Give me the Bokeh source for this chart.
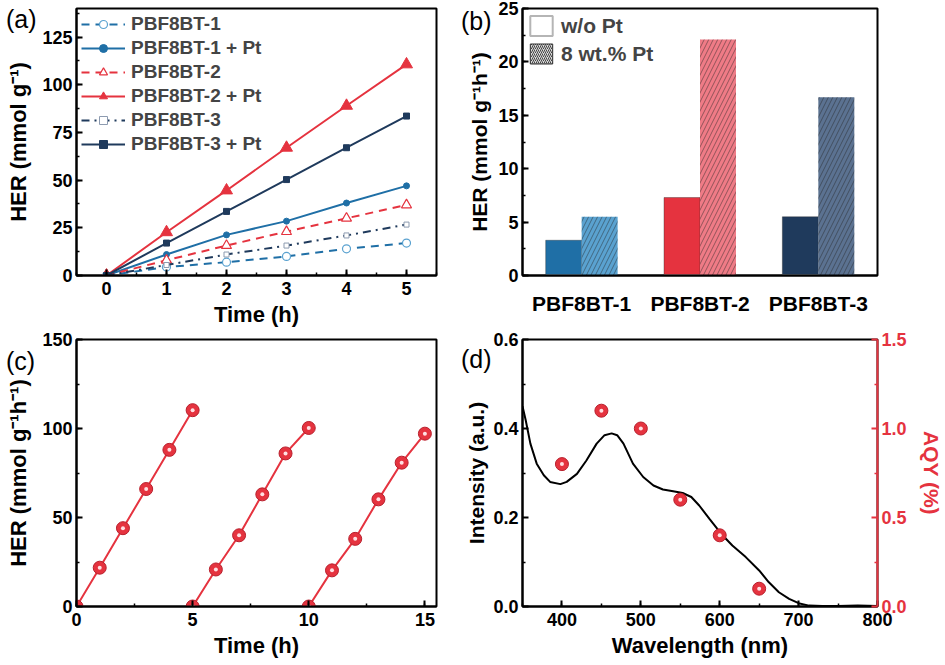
from bokeh.plotting import figure
from bokeh.models import (Range1d, LinearAxis, SingleIntervalTicker, FixedTicker, FactorRange,
                          Legend, LegendItem, ColumnDataSource, NumeralTickFormatter,
                          GridBox, Div)
from bokeh.transform import dodge
from bokeh.embed import file_html
from bokeh.resources import INLINE

FONT = "Liberation Sans"

# ---------------- data ----------------
# (a) HER vs time
time_a = [0, 1, 2, 3, 4, 5]
her_1 = [0, 4.4, 7.0, 10.0, 14.0, 17.0]
her_1_pt = [0, 11.0, 21.3, 28.5, 38.0, 47.0]
her_2 = [0, 8.0, 15.7, 23.0, 30.0, 37.0]
her_2_pt = [0, 22.7, 44.6, 67.0, 89.0, 110.7]
her_3 = [0, 5.5, 11.0, 15.7, 21.0, 26.7]
her_3_pt = [0, 17.0, 33.6, 50.3, 67.0, 83.6]

# (b) HER rates
samples = ["PBF8BT-1", "PBF8BT-2", "PBF8BT-3"]
rate_wo = [3.3, 7.3, 5.5]
rate_pt = [5.5, 22.1, 16.7]

# (c) cycling
time_c1 = [0, 1, 2, 3, 4, 5]
her_c1 = [0, 21.8, 44.0, 66.0, 88.0, 110.3]
time_c2 = [5, 6, 7, 8, 9, 10]
her_c2 = [0, 20.8, 40.0, 63.0, 86.0, 100.3]
time_c3 = [10, 11, 12, 13, 14, 15]
her_c3 = [0, 20.3, 38.0, 60.2, 80.8, 97.1]

# (d) absorption and AQY
wavelength = [350, 354, 360, 368, 377, 385, 398, 406, 419, 431, 444, 454, 463, 470,
              478, 490, 503, 516, 528, 541, 553, 564, 574, 587, 602, 616, 633, 650,
              662, 675, 688, 700, 713, 730, 750, 775, 800]
intensity = [0.450, 0.419, 0.366, 0.321, 0.295, 0.280, 0.275, 0.280, 0.298, 0.328,
             0.366, 0.385, 0.389, 0.385, 0.366, 0.321, 0.291, 0.272, 0.263, 0.259,
             0.255, 0.246, 0.227, 0.197, 0.163, 0.137, 0.111, 0.081, 0.055, 0.032,
             0.017, 0.0075, 0.002, 0.001, 0.001, 0.002, 0.001]
aqy_wl = [400, 450, 500, 550, 600, 650]
aqy = [0.80, 1.10, 1.00, 0.60, 0.40, 0.10]

# tick labels
int_ticks = [0.0, 0.2, 0.4, 0.6]
int_minor = [0.1, 0.3, 0.5]
aqy_ticks = [0.0, 0.5, 1.0, 1.5]
aqy_minor = [0.25, 0.75, 1.25]

# ---------------- styles ----------------
BLUE = "#1f6fa6"
BLUE_L = "#5aa2d0"
RED = "#e5333f"
RED_L = "#ef7b86"
NAVY = "#1f3a5c"
NAVY_L = "#5b7291"
COL_WO = [BLUE, RED, NAVY]
COL_PT = [BLUE_L, RED_L, NAVY_L]


def style_axis(ax, color="black", label_size="22px", tick_size="18px"):
    ax.axis_line_width = 2
    ax.axis_line_color = color
    ax.major_tick_in = 6
    ax.major_tick_out = 0
    ax.minor_tick_in = 3
    ax.minor_tick_out = 0
    ax.major_tick_line_width = 2
    ax.minor_tick_line_width = 1.5
    ax.major_tick_line_color = color
    ax.minor_tick_line_color = color
    ax.major_label_text_font = FONT
    ax.major_label_text_font_style = "bold"
    ax.major_label_text_font_size = tick_size
    ax.major_label_text_color = color
    ax.major_label_standoff = 4
    ax.axis_label_text_font = FONT
    ax.axis_label_text_font_style = "bold"
    ax.axis_label_text_font_size = label_size
    ax.axis_label_text_color = color
    ax.axis_label_standoff = 6


def base_style(p):
    p.outline_line_color = "black"
    p.outline_line_width = 2
    p.outline_line_alpha = 1
    p.xgrid.visible = False
    p.ygrid.visible = False
    p.background_fill_color = "white"
    p.border_fill_color = "white"


def panel_div(text, pad_left, pad_top):
    return Div(text=text, width=50, height=40, align="start",
               styles={"font-family": FONT, "font-size": "25px", "line-height": "1",
                       "color": "black", "padding-left": f"{pad_left}px",
                       "padding-top": f"{pad_top}px", "background": "transparent"})


# ---------------- (a) ----------------
pa = figure(width=455, height=330, x_range=Range1d(-0.5, 5.5), y_range=Range1d(0, 140),
            output_backend="svg", toolbar_location=None,
            min_border_left=76, min_border_right=18, min_border_top=8, min_border_bottom=55)
base_style(pa)
pa.xaxis.ticker = SingleIntervalTicker(interval=1, num_minor_ticks=2)
pa.yaxis.ticker = SingleIntervalTicker(interval=25, num_minor_ticks=2)
pa.xaxis.axis_label = "Time (h)"
pa.yaxis.axis_label = "HER (mmol g⁻¹)"
for ax in pa.axis:
    style_axis(ax)
pa.yaxis.axis_label_standoff = 8
pa.xaxis.major_label_standoff = 6
pa.xaxis.axis_label_standoff = 4

DASH = "8 6"
l1 = pa.line(time_a, her_1, line_color=BLUE, line_width=2, line_dash=DASH)
s1 = pa.scatter(time_a, her_1, marker="circle", size=8, fill_color="white", line_color=BLUE_L, line_width=1.2)
l1p = pa.line(time_a, her_1_pt, line_color=BLUE, line_width=2)
s1p = pa.scatter(time_a, her_1_pt, marker="circle", size=6, fill_color=BLUE, line_color=BLUE)
l2 = pa.line(time_a, her_2, line_color=RED, line_width=2, line_dash=DASH)
s2 = pa.scatter(time_a, her_2, marker="triangle", size=10, fill_color="white", line_color=RED, line_width=1.2)
l2p = pa.line(time_a, her_2_pt, line_color=RED, line_width=2)
s2p = pa.scatter(time_a, her_2_pt, marker="triangle", size=12, fill_color=RED, line_color=RED)
l3 = pa.line(time_a, her_3, line_color=NAVY, line_width=2, line_dash="8 5 2 5")
s3 = pa.scatter(time_a, her_3, marker="square", size=5, fill_color="white", line_color="#8d9bb0", line_width=1)
l3p = pa.line(time_a, her_3_pt, line_color=NAVY, line_width=2)
s3p = pa.scatter(time_a, her_3_pt, marker="square", size=6, fill_color=NAVY, line_color=NAVY)

leg_a = Legend(items=[
    LegendItem(label="PBF8BT-1", renderers=[l1, s1]),
    LegendItem(label="PBF8BT-1 + Pt", renderers=[l1p, s1p]),
    LegendItem(label="PBF8BT-2", renderers=[l2, s2]),
    LegendItem(label="PBF8BT-2 + Pt", renderers=[l2p, s2p]),
    LegendItem(label="PBF8BT-3", renderers=[l3, s3]),
    LegendItem(label="PBF8BT-3 + Pt", renderers=[l3p, s3p]),
], location="top_left", margin=5, padding=7, spacing=2, border_line_color=None,
    background_fill_alpha=0, glyph_width=44, glyph_height=20, label_height=20,
    label_standoff=6, label_text_font=FONT, label_text_font_style="bold",
    label_text_font_size="19px")
pa.add_layout(leg_a)

# ---------------- (b) ----------------
src_b = ColumnDataSource(dict(sample=samples, wo=rate_wo, pt=rate_pt, c_wo=COL_WO, c_pt=COL_PT))
pb = figure(width=490, height=330, x_range=FactorRange(*samples), y_range=Range1d(0, 25),
            output_backend="svg", toolbar_location=None,
            min_border_left=65, min_border_right=63, min_border_top=8, min_border_bottom=55)
base_style(pb)
pb.extra_y_ranges = {"hidden": Range1d(1000, 1001)}
pb.yaxis.ticker = SingleIntervalTicker(interval=5, num_minor_ticks=2)
pb.yaxis.axis_label = "HER (mmol g⁻¹h⁻¹)"
for ax in pb.axis:
    style_axis(ax, label_size="21px")
pb.yaxis.axis_label_standoff = 4
pb.xaxis.major_tick_in = 0
pb.xaxis.major_label_text_font_size = "21px"
pb.xaxis.major_label_standoff = 16
pb.x_range.range_padding = 0

pb.vbar(x=dodge("sample", -0.152, range=pb.x_range), top="wo", width=0.304, source=src_b,
        fill_color="c_wo", line_color="#222222", line_width=0.6, line_alpha=0.6)
pb.vbar(x=dodge("sample", 0.152, range=pb.x_range), top="pt", width=0.304, source=src_b,
        fill_color="c_pt", line_color=None, hatch_pattern="/", hatch_scale=9,
        hatch_color="#222222", hatch_alpha=0.45, hatch_weight=1)

# legend swatches (drawn on a hidden range so only the legend shows them)
lg1 = pb.vbar(x=dodge("sample", -0.152, range=pb.x_range), top="wo", width=0.304, source=src_b,
              y_range_name="hidden", fill_color="white", line_color="#b5b5b5", line_width=2)
lg2 = pb.vbar(x=dodge("sample", 0.152, range=pb.x_range), top="pt", width=0.304, source=src_b,
              y_range_name="hidden", fill_color="#d8d8d8", line_color="#333333", line_width=1,
              hatch_pattern="/", hatch_scale=4, hatch_color="#444444", hatch_weight=1)
leg_b = Legend(items=[LegendItem(label="w/o Pt", renderers=[lg1]),
                      LegendItem(label="8 wt.% Pt", renderers=[lg2])],
               location="top_left", margin=5, padding=7, spacing=3, border_line_color=None,
               background_fill_alpha=0, glyph_width=28, glyph_height=25, label_height=25,
               label_standoff=6, label_text_font=FONT, label_text_font_style="bold",
               label_text_font_size="21px")
pb.add_layout(leg_b)

# ---------------- (c) ----------------
pc = figure(width=455, height=335, x_range=Range1d(0, 15.5), y_range=Range1d(0, 150),
            output_backend="svg", toolbar_location=None,
            min_border_left=76, min_border_right=19, min_border_top=9, min_border_bottom=59)
base_style(pc)
pc.xaxis.ticker = SingleIntervalTicker(interval=5, num_minor_ticks=2)
pc.yaxis.ticker = SingleIntervalTicker(interval=50, num_minor_ticks=2)
pc.xaxis.axis_label = "Time (h)"
pc.yaxis.axis_label = "HER (mmol g⁻¹h⁻¹)"
for ax in pc.axis:
    style_axis(ax)
pc.yaxis.axis_label_standoff = 8
pc.xaxis.major_label_standoff = 6
pc.xaxis.axis_label_standoff = 4
for tx, hy in [(time_c1, her_c1), (time_c2, her_c2), (time_c3, her_c3)]:
    pc.line(tx, hy, line_color=RED, line_width=2)
    pc.scatter(tx, hy, marker="circle", size=13, fill_color=RED, line_color="#b8202d", line_width=1)
    pc.scatter(tx, hy, marker="circle", size=4, fill_color="#ffe0e3", line_color=None)

# ---------------- (d) ----------------
pd_ = figure(width=490, height=335, x_range=Range1d(350, 800), y_range=Range1d(0, 0.6),
             output_backend="svg", toolbar_location=None,
             min_border_left=67, min_border_right=66, min_border_top=9, min_border_bottom=59)
base_style(pd_)
pd_.extra_y_ranges = {"aqy": Range1d(0, 1.5)}
ax_r = LinearAxis(y_range_name="aqy", axis_label="AQY (%)")
pd_.add_layout(ax_r, "right")
pd_.xaxis.ticker = SingleIntervalTicker(interval=100, num_minor_ticks=2)
pd_.yaxis[0].ticker = FixedTicker(ticks=int_ticks, minor_ticks=int_minor)
ax_r.ticker = FixedTicker(ticks=aqy_ticks, minor_ticks=aqy_minor)
pd_.xaxis.axis_label = "Wavelength (nm)"
pd_.yaxis[0].axis_label = "Intensity (a.u.)"
for ax in pd_.xaxis:
    style_axis(ax)
style_axis(pd_.yaxis[0], label_size="21px")
style_axis(ax_r, color=RED, label_size="21px")
pd_.yaxis[0].formatter = NumeralTickFormatter(format="0.0")
ax_r.formatter = NumeralTickFormatter(format="0.0")
pd_.yaxis[0].axis_label_standoff = 2
ax_r.axis_label_standoff = 10
pd_.xaxis.major_label_standoff = 6
pd_.xaxis.axis_label_standoff = 4

pd_.line(wavelength, intensity, line_color="black", line_width=2)
pd_.scatter(aqy_wl, aqy, y_range_name="aqy", marker="circle", size=13, fill_color=RED,
            line_color="#b8202d", line_width=1)
pd_.scatter(aqy_wl, aqy, y_range_name="aqy", marker="circle", size=4, fill_color="#ffe0e3",
            line_color=None)

# ---------------- layout with panel letters ----------------
layout = GridBox(children=[
    (pa, 0, 0), (pb, 0, 1), (pc, 1, 0), (pd_, 1, 1),
    (panel_div("(a)", 1, 2), 0, 0), (panel_div("(b)", 1, 4), 0, 1),
    (panel_div("(c)", 1, 14), 1, 0), (panel_div("(d)", 1, 12), 1, 1),
])
open("out.html", "w").write(file_html(layout, INLINE))
